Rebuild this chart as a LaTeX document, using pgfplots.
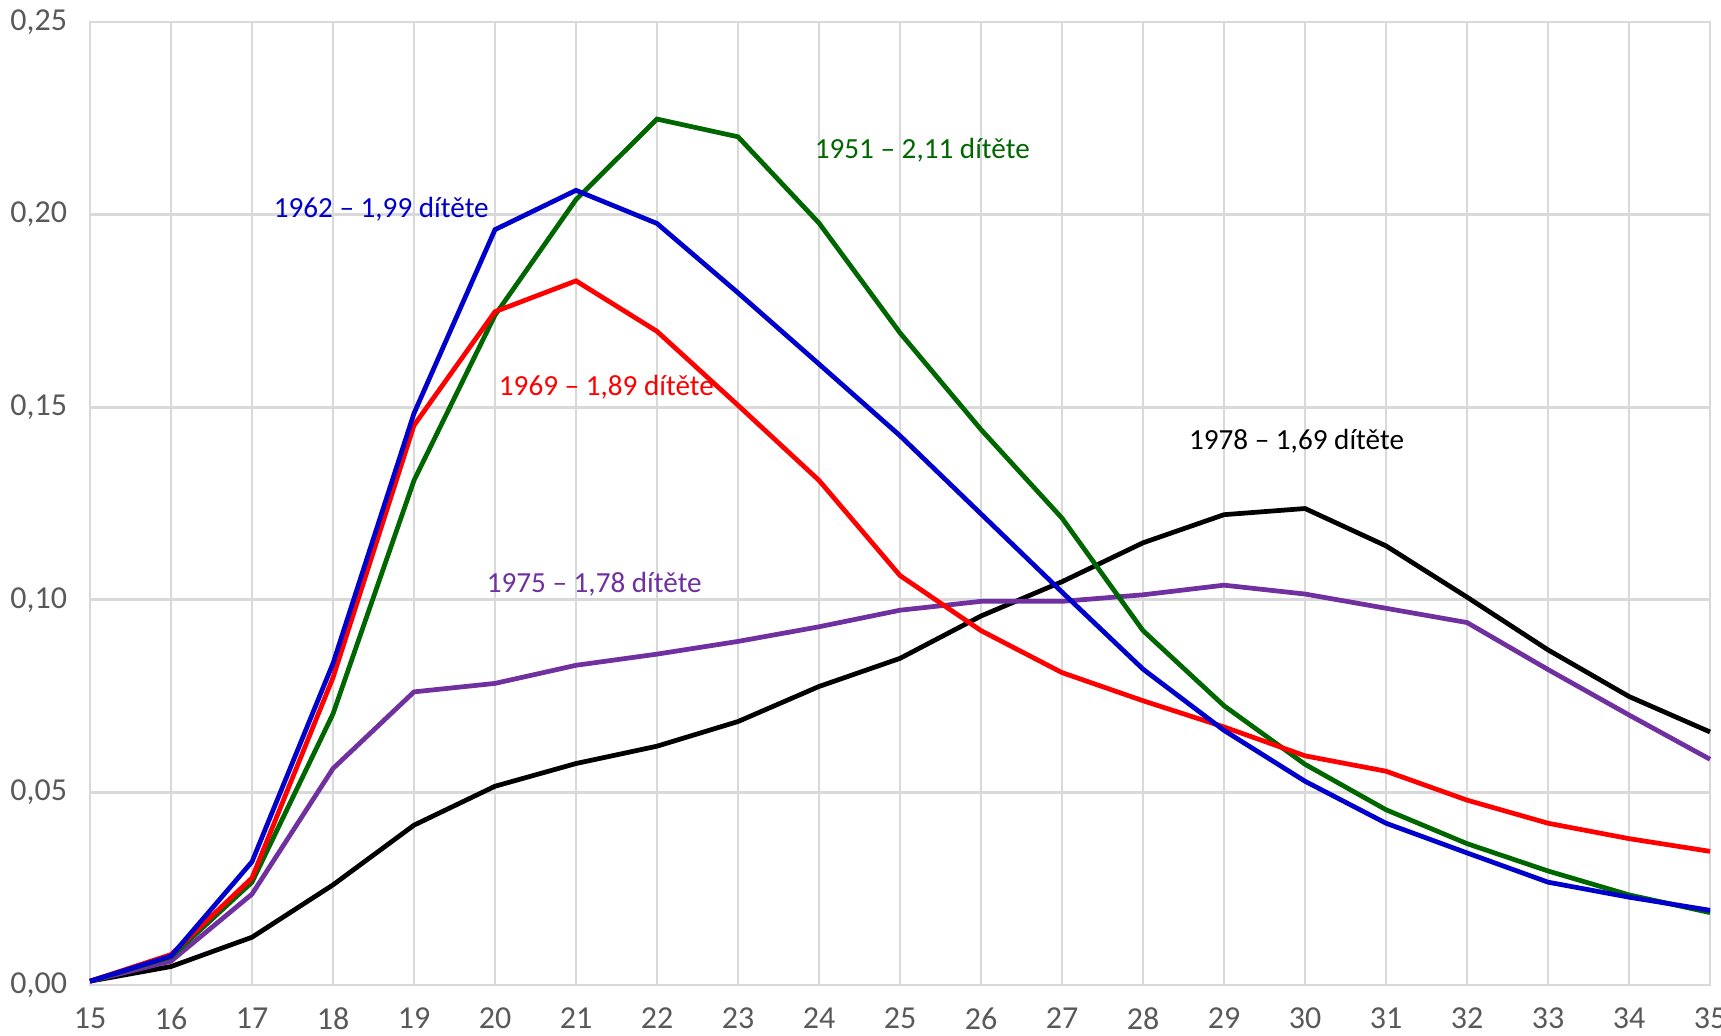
\documentclass[border=0pt]{standalone}
\usepackage{pgfplots}
\pgfplotsset{compat=1.18}
\usepackage{fontspec}
\setmainfont{Carlito}

\definecolor{gridgray}{HTML}{D9D9D9}
\definecolor{ticktext}{HTML}{595959}
\definecolor{c1951}{HTML}{006600}
\definecolor{c1962}{HTML}{0000CC}
\definecolor{c1969}{HTML}{FF0000}
\definecolor{c1975}{HTML}{7030A0}
\definecolor{c1978}{HTML}{000000}

% age, fertility rate by cohort
\pgfplotstableread{
age  y1951  y1962  y1969  y1975  y1978
15   0.0010 0.0010 0.0010 0.0010 0.0010
16   0.0073 0.0075 0.0079 0.0062 0.0048
17   0.0267 0.0320 0.0278 0.0236 0.0124
18   0.0704 0.0835 0.0798 0.0562 0.0260
19   0.1310 0.1484 0.1453 0.0761 0.0415
20   0.1739 0.1961 0.1748 0.0783 0.0516
21   0.2039 0.2063 0.1828 0.0830 0.0575
22   0.2248 0.1977 0.1697 0.0859 0.0620
23   0.2202 0.1797 0.1505 0.0892 0.0684
24   0.1978 0.1612 0.1310 0.0930 0.0775
25   0.1693 0.1426 0.1063 0.0973 0.0848
26   0.1442 0.1223 0.0920 0.0996 0.0958
27   0.1212 0.1020 0.0811 0.0996 0.1047
28   0.0920 0.0820 0.0738 0.1013 0.1148
29   0.0725 0.0661 0.0670 0.1038 0.1221
30   0.0573 0.0529 0.0595 0.1015 0.1237
31   0.0455 0.0420 0.0555 0.0978 0.1140
32   0.0367 0.0343 0.0480 0.0941 0.1007
33   0.0296 0.0267 0.0420 0.0819 0.0870
34   0.0234 0.0228 0.0380 0.0701 0.0749
35   0.0188 0.0194 0.0347 0.0586 0.0657
}\data

\begin{document}
\begin{tikzpicture}
\begin{axis}[
  scale only axis,
  width=16.2cm, height=9.63cm,
  xmin=15, xmax=35, ymin=0, ymax=0.25,
  xtick={15,...,35},
  ytick={0,0.05,0.1,0.15,0.2,0.25},
  grid=major,
  major grid style={gridgray, line width=0.8pt},
  axis line style={gridgray, line width=0.8pt},
  major tick length=0pt,
  tick label style={font=\fontsize{9.1}{10}\selectfont, text=ticktext},
  yticklabel style={xshift=-3pt},
  xticklabel style={yshift=-3pt, /pgf/number format/precision=0, /pgf/number format/fixed zerofill=false},
  /pgf/number format/.cd, assume math mode=true, use comma, fixed, fixed zerofill, precision=2,
  /pgfplots/.cd,
  every axis plot/.append style={line width=1.35pt},
  clip=false,
]
\addplot[c1978] table[x=age, y=y1978] {\data};
\addplot[c1975] table[x=age, y=y1975] {\data};
\addplot[c1951] table[x=age, y=y1951] {\data};
\addplot[c1969] table[x=age, y=y1969] {\data};
\addplot[c1962] table[x=age, y=y1962] {\data};

\begin{scope}[every node/.style={anchor=west, inner sep=0pt, font=\fontsize{8.3}{10}\selectfont}]
\node[text=c1962] at (axis cs:17.26,0.2015) {1962 – 1,99 dítěte};
\node[text=c1951] at (axis cs:23.94,0.2167) {1951 – 2,11 dítěte};
\node[text=c1969] at (axis cs:20.04,0.1551) {1969 – 1,89 dítěte};
\node[text=c1978] at (axis cs:28.56,0.1411) {1978 – 1,69 dítěte};
\node[text=c1975] at (axis cs:19.89,0.1040) {1975 – 1,78 dítěte};
\end{scope}
\end{axis}
\pgfresetboundingbox
\path[use as bounding box] (-0.9cm,-0.5cm) rectangle (16.31cm,9.85cm);
\end{tikzpicture}
\end{document}
